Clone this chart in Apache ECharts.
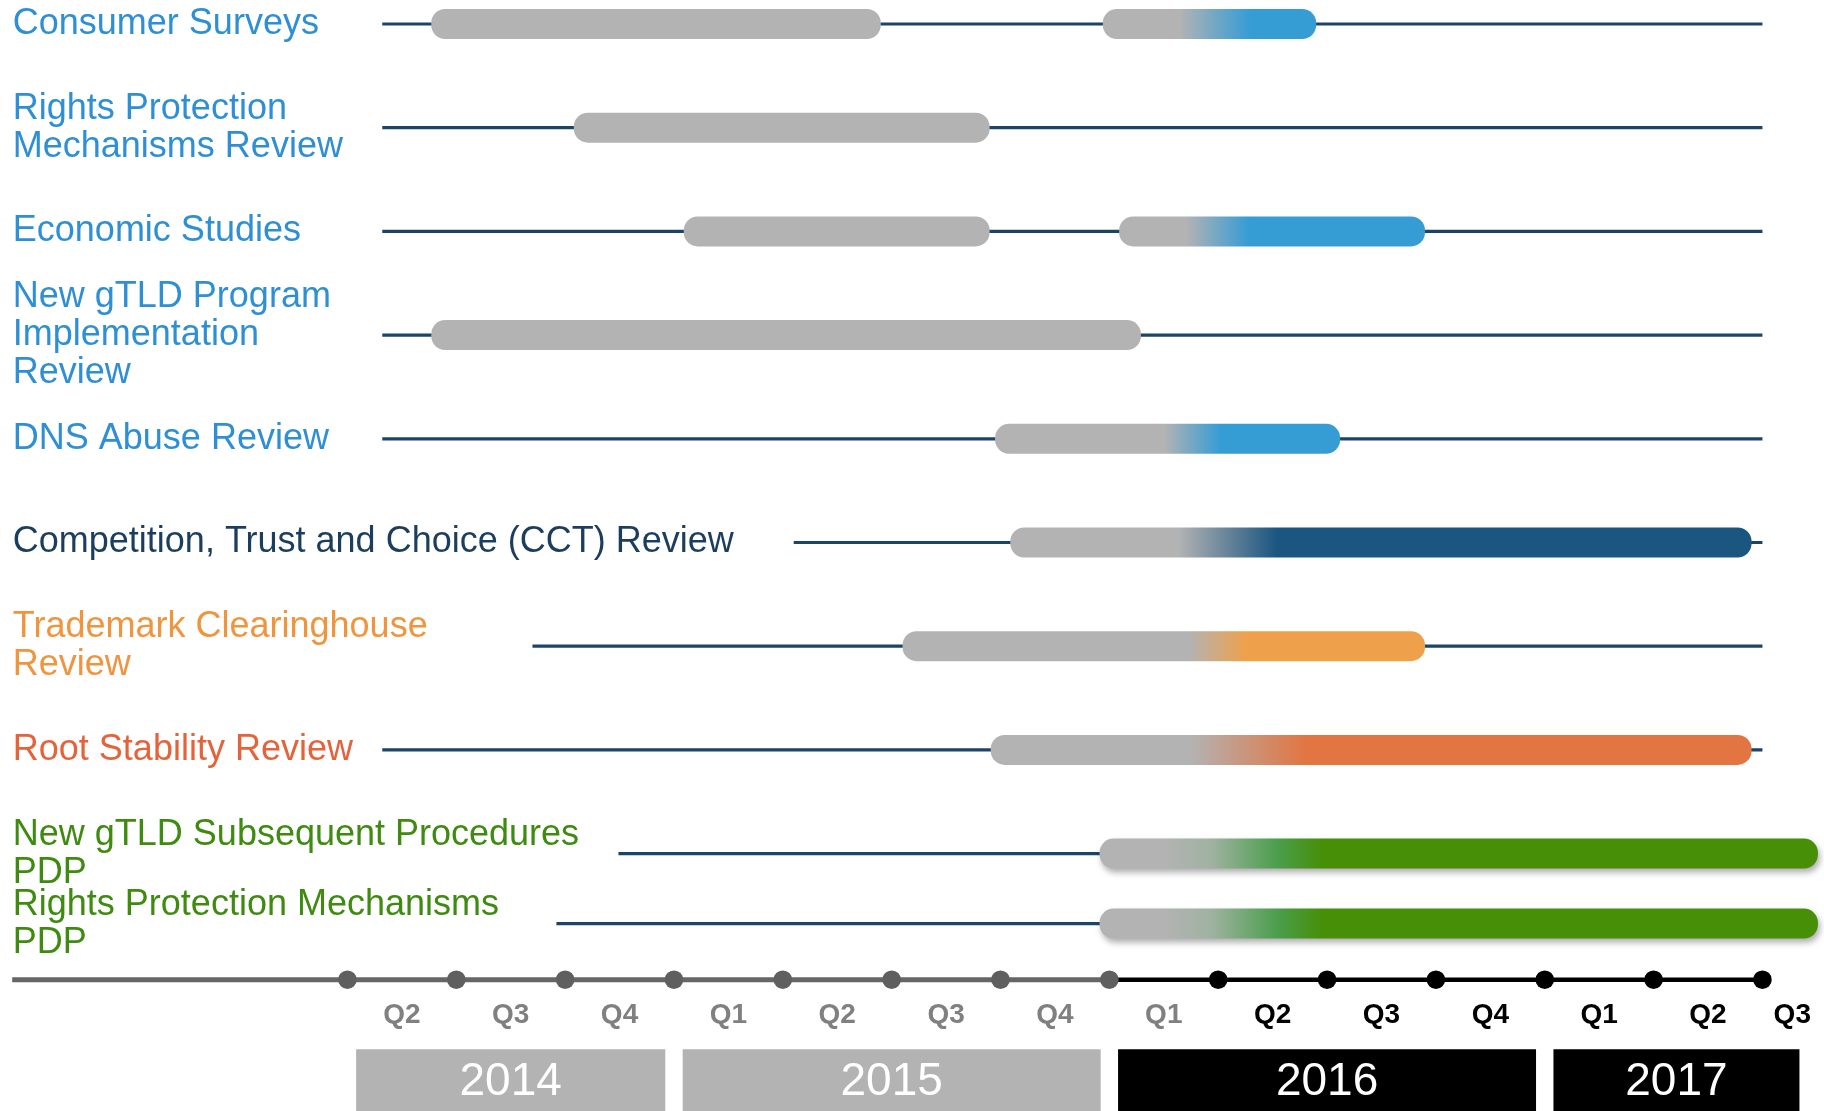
<!DOCTYPE html>
<html>
<head>
<meta charset="utf-8">
<script src="https://cdn.jsdelivr.net/npm/echarts@6/dist/echarts.min.js"></script>
<style>
html,body{margin:0;padding:0;background:#ffffff;}
#chart{width:1824px;height:1111px;}
</style>
</head>
<body>
<div id="chart"></div>
<script>
// ---------------- DATA ----------------
// x values are measured in quarters, 0 = start of Q2 2014
const tasks = [
  'Consumer Surveys',
  'Rights Protection\nMechanisms Review',
  'Economic Studies',
  'New gTLD Program\nImplementation\nReview',
  'DNS Abuse Review',
  'Competition, Trust and Choice (CCT) Review',
  'Trademark Clearinghouse\nReview',
  'Root Stability Review',
  'New gTLD Subsequent Procedures\nPDP',
  'Rights Protection Mechanisms\nPDP'
];
const taskGroup = ['input','input','input','input','input','cct','tmch','root','pdp','pdp'];
const trackStart = [0.32, 0.32, 0.32, 0.32, 0.32, 4.10, 1.70, 0.32, 2.49, 1.92];
const trackEnd   = [13, 13, 13, 13, 13, 13, 13, 13, 13, 13];

const barTask   = [0, 0, 1, 2, 2, 3, 4, 5, 6, 7, 8, 9];
const barStart  = [0.77, 6.94, 2.08, 3.09, 7.09, 0.77, 5.95, 6.09, 5.10, 5.91, 6.91, 6.91];
const barEnd    = [4.90, 8.90, 5.90, 5.90, 9.90, 7.29, 9.12, 12.90, 9.90, 12.90, 13.51, 13.51];
const fadeStart = [null, 7.64, null, null, 7.70, null, 7.50, 7.63, 7.73, 7.74, 7.49, 7.49];
const fadeEnd   = [null, 8.29, null, null, 8.28, null, 8.02, 8.54, 8.26, 8.81, 8.96, 8.96];

const quarterLabels = ['Q2','Q3','Q4','Q1','Q2','Q3','Q4','Q1','Q2','Q3','Q4','Q1','Q2','Q3'];
const yearLabels = ['2014', '2015', '2016', '2017'];
const yearStart  = [0, 3, 7, 11];
const yearEnd    = [3, 7, 11, 13.42];
const timelineStart = -3.08;
const currentQuarter = 7;   // start of Q1 2016

// ---------------- STYLE ----------------
const FONT = '"Liberation Sans", Arial, sans-serif';
const GREY = '#b3b3b3';
const textColor = {input:'#2e8fd5', cct:'#1b3d5e', tmch:'#f0953d', root:'#e4633a', pdp:'#3e8b10'};
const barColor  = {input:'#369dd4', cct:'#1b5681', tmch:'#eea14a', root:'#e27541', pdp:'#468f07'};
const MAIN_ROWS = 9;
const X_MIN = -3.18, X_MAX = 13.55;
const BAR_H = 30;

const chart = echarts.init(document.getElementById('chart'), null, {renderer:'canvas'});

function xAxisCfg(gi) {
  return {type:'value', gridIndex:gi, min:X_MIN, max:X_MAX, show:false};
}
function yCatCfg(gi, data, offsetIdx, boundaryGap) {
  return {
    type:'category', gridIndex:gi, data:data, inverse:true, boundaryGap:boundaryGap,
    axisLine:{show:false}, axisTick:{show:false}, splitLine:{show:false},
    axisLabel:{
      inside:true, align:'left', margin:11.5, interval:0,
      fontSize:36, lineHeight:38, fontFamily:FONT,
      padding:[6, 0, 0, 0],
      color:function(v, i){ return textColor[taskGroup[i + offsetIdx]]; }
    }
  };
}

function trackSeries(gi, from, to) {
  const data = [];
  for (let i = from; i < to; i++) data.push([trackStart[i], trackEnd[i], i - from]);
  return {
    type:'custom', xAxisIndex:gi, yAxisIndex:gi, z:1, silent:true,
    encode:{x:[0,1], y:2},
    data:data,
    renderItem:function(params, api){
      const p0 = api.coord([api.value(0), api.value(2)]);
      const p1 = api.coord([api.value(1), api.value(2)]);
      return {type:'line', shape:{x1:p0[0], y1:p0[1], x2:p1[0], y2:p1[1]},
        style:{stroke:'#1b4466', lineWidth:3.2}};
    }
  };
}

function barSeries(gi, from, to) {
  const data = [];
  for (let b = 0; b < barTask.length; b++) {
    if (barTask[b] >= from && barTask[b] < to) data.push([barStart[b], barEnd[b], barTask[b] - from, b]);
  }
  return {
    type:'custom', xAxisIndex:gi, yAxisIndex:gi, z:2, silent:true,
    encode:{x:[0,1], y:2},
    data:data,
    renderItem:function(params, api){
      const b = api.value(3);
      const s = api.value(0), e = api.value(1);
      const p0 = api.coord([s, api.value(2)]);
      const p1 = api.coord([e, api.value(2)]);
      const grp = taskGroup[barTask[b]];
      let fill = GREY;
      if (fadeStart[b] !== null) {
        const t0 = (fadeStart[b] - s) / (e - s);
        const t1 = (fadeEnd[b] - s) / (e - s);
        const c = barColor[grp];
        let stops;
        if (grp === 'pdp') {
          stops = [
            {offset:0, color:GREY},
            {offset:t0, color:GREY},
            {offset:t0 + (t1 - t0) * 0.3, color:'#a0b2a2'},
            {offset:t0 + (t1 - t0) * 0.72, color:'#4b9e4c'},
            {offset:t1, color:c},
            {offset:1, color:c}
          ];
        } else {
          stops = [
            {offset:0, color:GREY},
            {offset:t0, color:GREY},
            {offset:t1, color:c},
            {offset:1, color:c}
          ];
        }
        fill = new echarts.graphic.LinearGradient(0, 0, 1, 0, stops);
      }
      const style = {fill:fill};
      if (grp === 'pdp') {
        style.shadowBlur = 6; style.shadowOffsetX = 2; style.shadowOffsetY = 4;
        style.shadowColor = 'rgba(0,0,0,0.32)';
      }
      return {type:'rect',
        shape:{x:p0[0], y:p0[1] - BAR_H / 2, width:p1[0] - p0[0], height:BAR_H, r:14},
        style:style};
    }
  };
}

// timeline layout (offsets from top of timeline grid)
const AXIS_DY = 19.7, QLABEL_DY = 55, YEAR_TOP = 89.3, YEAR_H = 64;
const lastTick = quarterLabels.length - 1;
const ticks = quarterLabels.map(function(q, i){ return [i]; });

const timelineAxis = {
  type:'custom', xAxisIndex:2, yAxisIndex:2, z:2, silent:true,
  encode:{x:[0,1]},
  data:[[timelineStart, currentQuarter], [currentQuarter, lastTick]],
  renderItem:function(params, api){
    const top = params.coordSys.y;
    const x0 = api.coord([api.value(0), 0])[0];
    const x1 = api.coord([api.value(1), 0])[0];
    const past = params.dataIndex === 0;
    return {type:'line', shape:{x1:x0, y1:top + AXIS_DY, x2:x1, y2:top + AXIS_DY},
      style:{stroke: past ? '#666666' : '#000000', lineWidth: past ? 5 : 4.5}};
  }
};
const timelineDots = {
  type:'custom', xAxisIndex:2, yAxisIndex:2, z:3, silent:true,
  encode:{x:0},
  data:ticks,
  renderItem:function(params, api){
    const top = params.coordSys.y;
    const v = api.value(0);
    const x = api.coord([v, 0])[0];
    return {type:'circle', shape:{cx:x, cy:top + AXIS_DY, r:9.3},
      style:{fill: v <= currentQuarter ? '#5f5f5f' : '#000000'}};
  }
};
const quarterText = {
  type:'custom', xAxisIndex:2, yAxisIndex:2, z:3, silent:true,
  encode:{x:0},
  data:quarterLabels.map(function(q, i){ return [i + 0.5]; }),
  renderItem:function(params, api){
    const cs = params.coordSys;
    const v = api.value(0);
    let x = api.coord([v, 0])[0];
    x = Math.min(x, cs.x + cs.width - 30);
    return {type:'text', style:{
      text: quarterLabels[params.dataIndex], x:x, y:cs.y + QLABEL_DY,
      align:'center', verticalAlign:'middle',
      font:'bold 28px ' + FONT,
      fill: v < currentQuarter + 1 ? '#808080' : '#000000'
    }};
  }
};
const yearBoxes = {
  type:'custom', xAxisIndex:2, yAxisIndex:2, z:3, silent:true,
  encode:{x:[0,1]},
  data:yearLabels.map(function(y, i){ return [yearStart[i], yearEnd[i]]; }),
  renderItem:function(params, api){
    const top = params.coordSys.y;
    const s = api.value(0);
    const x0 = api.coord([s, 0])[0] + 8.7;
    const x1 = api.coord([api.value(1), 0])[0] - 8.7;
    const past = s < currentQuarter;
    return {type:'group', children:[
      {type:'rect', shape:{x:x0, y:top + YEAR_TOP, width:x1 - x0, height:YEAR_H},
        style:{fill: past ? '#b3b3b3' : '#000000'}},
      {type:'text', style:{text: yearLabels[params.dataIndex], x:(x0 + x1) / 2, y:top + YEAR_TOP + 33,
        align:'center', verticalAlign:'middle', font:'46px ' + FONT, fill:'#ffffff'}}
    ]};
  }
};

const option = {
  backgroundColor:'#ffffff',
  animation:false,
  grid:[
    {left:1.3, right:1.7, top:24, height:829.6},
    {left:1.3, right:1.7, top:903.6, height:40},
    {left:1.3, right:1.7, top:960, height:151}
  ],
  xAxis:[xAxisCfg(0), xAxisCfg(1), xAxisCfg(2)],
  yAxis:[
    yCatCfg(0, tasks.slice(0, MAIN_ROWS), 0, false),
    yCatCfg(1, tasks.slice(MAIN_ROWS), MAIN_ROWS, true),
    {type:'value', gridIndex:2, min:0, max:1, show:false}
  ],
  series:[
    trackSeries(0, 0, MAIN_ROWS),
    trackSeries(1, MAIN_ROWS, tasks.length),
    barSeries(0, 0, MAIN_ROWS),
    barSeries(1, MAIN_ROWS, tasks.length),
    timelineAxis, timelineDots, quarterText, yearBoxes
  ]
};
chart.setOption(option);
</script>
</body>
</html>
